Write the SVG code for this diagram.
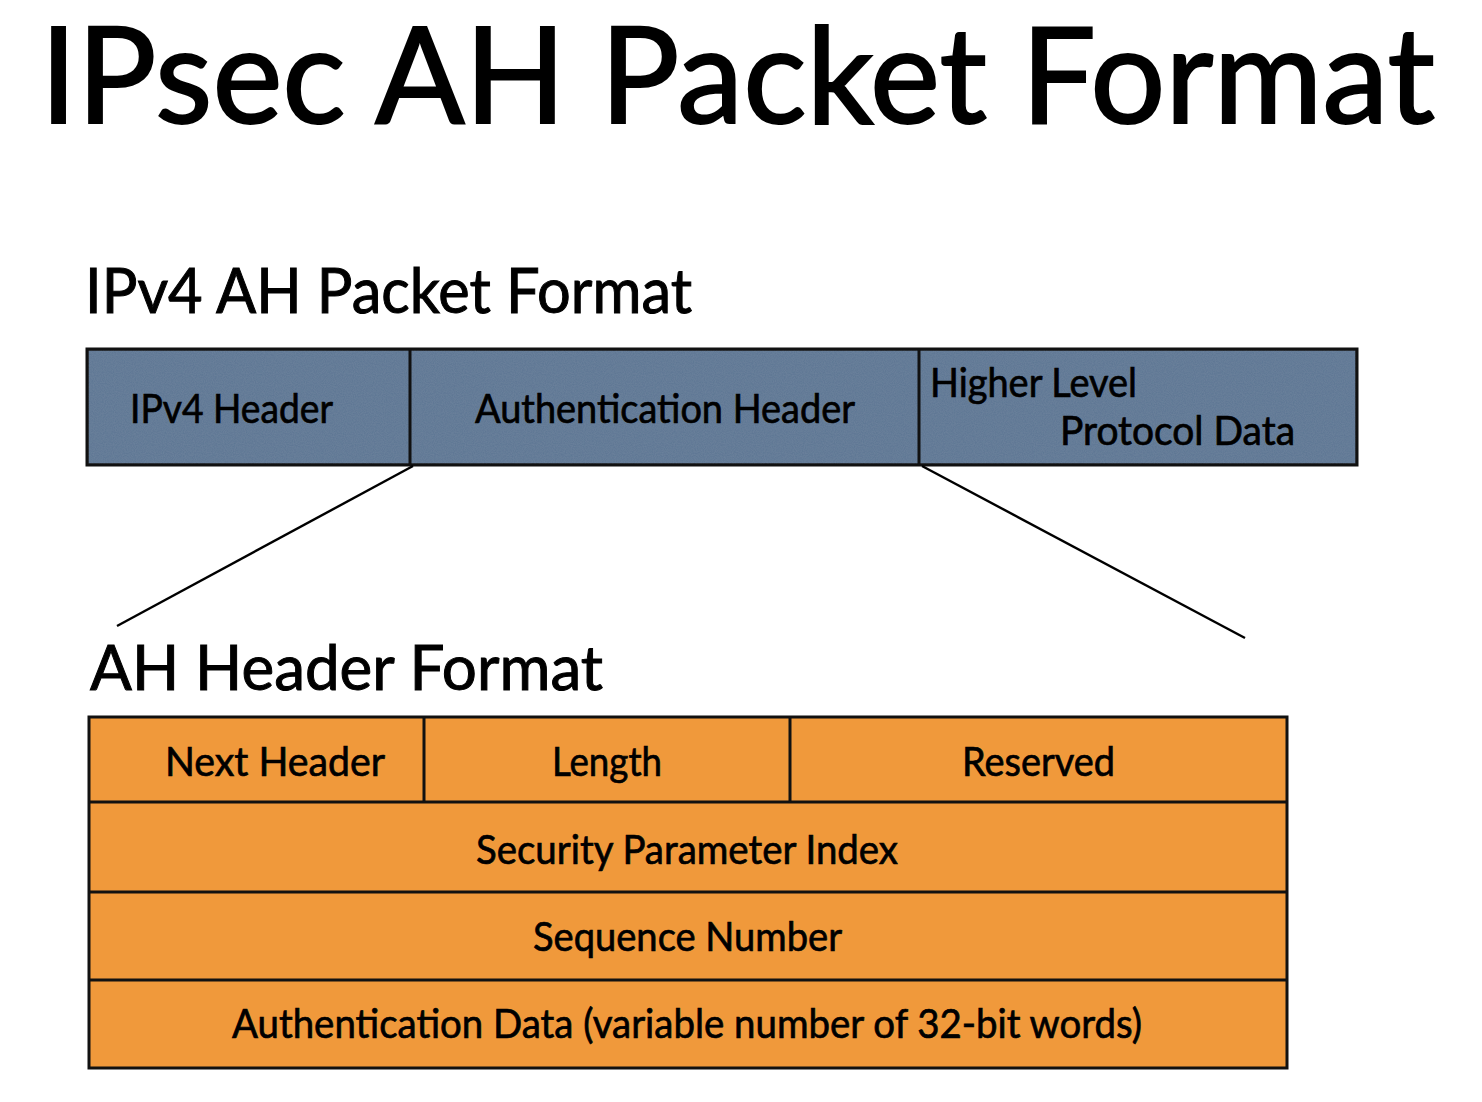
<svg xmlns="http://www.w3.org/2000/svg" width="1482" height="1102" viewBox="0 0 1482 1102">
  <style>
    text { font-family: "Lato", "Open Sans", "Liberation Sans", sans-serif; fill: #000; stroke: #000; stroke-width: 0.7; }
    .title { font-size: 134px; stroke-width: 2; }
    .sub { font-size: 62px; stroke-width: 1; }
    .lbl { font-size: 41px; }
    .blue { fill: #5b7593; stroke: #111; stroke-width: 3; }
    .orange { fill: #f0993b; stroke: #111; stroke-width: 3; }
    .div { stroke: #111; stroke-width: 3; fill: none; }
    .zoom { stroke: #000; stroke-width: 2.4; fill: none; }
  </style>
  <defs>
    <filter id="grain" x="0" y="0" width="100%" height="100%">
      <feTurbulence type="fractalNoise" baseFrequency="0.9" numOctaves="2" seed="3" result="n"/>
      <feColorMatrix in="n" type="matrix" values="0 0 0 0 0.5  0 0 0 0 0.55  0 0 0 0 0.62  0 0 0 0.12 0" result="tint"/>
      <feComposite in="tint" in2="SourceGraphic" operator="atop"/>
    </filter>
  </defs>
  <rect width="1482" height="1102" fill="#fff"/>

  <text class="title" x="40" y="123" textLength="1395" lengthAdjust="spacingAndGlyphs">IPsec AH Packet Format</text>

  <!-- IPv4 packet layout -->
  <text class="sub" x="85" y="313" textLength="607" lengthAdjust="spacingAndGlyphs">IPv4 AH Packet Format</text>
  <g id="ipv4-packet">
    <rect class="blue" x="87" y="349" width="1270" height="116" filter="url(#grain)"/>
    <rect x="87" y="349" width="1270" height="116" fill="none" stroke="#111" stroke-width="3"/>
    <line class="div" x1="410" y1="349" x2="410" y2="465"/>
    <line class="div" x1="919" y1="349" x2="919" y2="465"/>
  </g>
  <g id="ipv4-header">
    <text class="lbl" x="130" y="423" textLength="203" lengthAdjust="spacingAndGlyphs">IPv4 Header</text>
  </g>
  <g id="auth-header">
    <text class="lbl" x="475" y="423" textLength="380" lengthAdjust="spacingAndGlyphs">Authentication Header</text>
  </g>
  <g id="upper-data">
    <text class="lbl" x="930" y="397" textLength="207" lengthAdjust="spacingAndGlyphs">Higher Level</text>
    <text class="lbl" x="1060" y="445" textLength="235" lengthAdjust="spacingAndGlyphs">Protocol Data</text>
  </g>

  <!-- expansion lines from the AH block to its detail -->
  <g id="connectors">
    <line class="zoom" x1="413" y1="466" x2="117" y2="626"/>
    <line class="zoom" x1="922" y1="466" x2="1245" y2="638"/>
  </g>

  <!-- AH header fields -->
  <text class="sub" x="90" y="690" textLength="513" lengthAdjust="spacingAndGlyphs">AH Header Format</text>
  <g id="ah-header">
    <rect class="orange" x="89" y="717" width="1198" height="351"/>
    <line class="div" x1="89" y1="802" x2="1287" y2="802"/>
    <line class="div" x1="89" y1="892" x2="1287" y2="892"/>
    <line class="div" x1="89" y1="980" x2="1287" y2="980"/>
    <line class="div" x1="424" y1="717" x2="424" y2="802"/>
    <line class="div" x1="790" y1="717" x2="790" y2="802"/>
  </g>
  <g id="next-header">
    <text class="lbl" x="165" y="776" textLength="220" lengthAdjust="spacingAndGlyphs">Next Header</text>
  </g>
  <g id="length">
    <text class="lbl" x="552" y="776" textLength="110" lengthAdjust="spacingAndGlyphs">Length</text>
  </g>
  <g id="reserved">
    <text class="lbl" x="962" y="776" textLength="153" lengthAdjust="spacingAndGlyphs">Reserved</text>
  </g>
  <g id="spi">
    <text class="lbl" x="476" y="864" textLength="422" lengthAdjust="spacingAndGlyphs">Security Parameter Index</text>
  </g>
  <g id="sequence">
    <text class="lbl" x="533" y="951" textLength="309" lengthAdjust="spacingAndGlyphs">Sequence Number</text>
  </g>
  <g id="auth-data">
    <text class="lbl" x="232" y="1038" textLength="910" lengthAdjust="spacingAndGlyphs">Authentication Data (variable number of 32-bit words)</text>
  </g>
</svg>
